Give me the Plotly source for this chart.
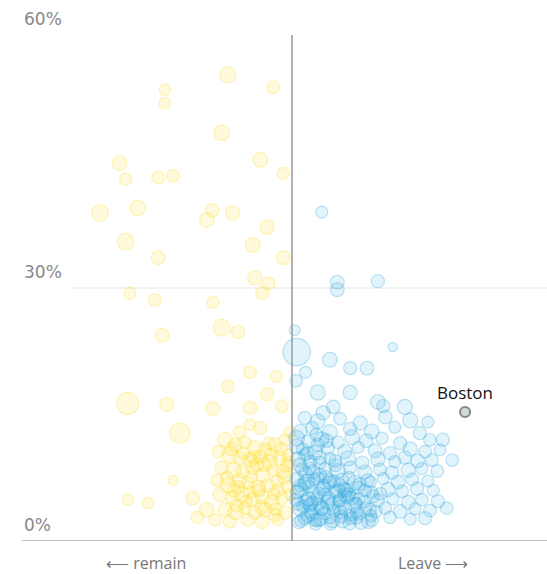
import plotly.graph_objects as go

# ---------------- data ----------------
# x: Leave vote share (%), y: share of residents (%), pop: electorate (thousands)
remain_x = [40.5, 31.2, 31.2, 47.2, 39.6, 24.5, 45.3, 48.7, 25.4, 30.2, 32.4, 21.6, 27.2, 37.4, 38.2,
            41.2, 25.4, 30.2, 46.3, 44.2, 48.7, 44.5, 46.5, 45.6, 26.0, 29.7, 38.3, 39.6, 42.0, 30.8,
            43.8, 40.5, 46.3, 25.7, 31.5, 38.3, 43.8, 33.4, 32.4, 38.9, 25.7, 28.7, 35.3, 37.4, 36.0,
            48.5, 47.7,
            40.1, 41.6, 43.0, 44.5, 46.0, 47.5, 49.0, 49.7, 40.8, 42.3, 43.8, 45.3, 46.7, 48.2, 49.4,
            39.6, 41.3, 42.7, 44.2, 45.7, 47.2, 48.7, 40.5, 42.0, 43.5, 45.0, 46.4, 47.9, 49.3,
            39.3, 41.1, 42.6, 44.1, 45.6, 47.0, 48.5, 49.7, 40.1, 41.6, 43.0, 44.5, 46.0, 47.5, 49.0,
            38.6, 40.8, 43.5, 45.6, 47.9, 42.3, 45.3, 39.1, 43.8,
            41.0, 42.9, 44.8, 46.6, 48.4, 40.4, 42.2, 44.0, 45.9, 47.8, 49.2, 41.8, 43.7, 45.5, 47.3,
            44.3, 46.9, 48.9, 43.2, 45.1, 47.6, 49.5, 41.5]
remain_y = [55.3, 53.5, 51.9, 53.8, 48.4, 44.8, 45.2, 43.6, 42.9, 43.1, 43.3, 38.9, 39.5, 38.1, 39.2,
            38.9, 35.5, 33.6, 37.2, 35.1, 33.6, 31.2, 30.5, 29.4, 29.4, 28.6, 28.3, 25.3, 24.8, 24.4,
            20.0, 18.3, 17.4, 16.3, 16.2, 15.7, 15.8, 12.8, 7.2, 7.2, 4.9, 4.5, 5.1, 3.7, 2.8,
            16.0, 19.5,
            12.0, 11.4, 11.7, 11.0, 10.8, 11.4, 12.0, 12.9, 10.2, 9.8, 9.6, 10.0, 9.4, 9.8, 10.2,
            8.7, 8.4, 8.2, 8.7, 7.8, 8.4, 8.2, 6.6, 6.4, 6.9, 6.3, 6.6, 6.0, 6.5,
            5.5, 5.1, 5.5, 4.9, 5.2, 4.6, 5.1, 5.5, 3.7, 3.4, 3.9, 3.4, 3.7, 3.1, 3.4,
            2.5, 2.3, 2.5, 2.3, 2.5, 12.9, 13.4, 10.6, 13.8,
            10.9, 10.4, 9.1, 11.6, 10.9, 7.5, 7.2, 7.6, 9.0, 7.1, 8.9, 4.2, 5.8, 4.0, 5.6,
            9.9, 10.2, 7.6, 4.7, 6.0, 3.8, 9.3, 6.0]
remain_pop = [180, 90, 90, 110, 160, 150, 150, 100, 100, 110, 110, 190, 170, 150, 120,
              140, 200, 130, 140, 150, 130, 140, 120, 120, 100, 110, 100, 200, 120, 130,
              110, 110, 120, 330, 140, 130, 120, 280, 70, 110, 90, 90, 130, 150, 110,
              110, 100,
              150, 130, 110, 160, 120, 140, 100, 90, 170, 120, 140, 110, 150, 130, 100,
              120, 160, 110, 130, 150, 100, 140, 170, 120, 110, 150, 130, 120, 100,
              140, 110, 160, 120, 130, 150, 110, 90, 130, 150, 100, 120, 140, 110, 130,
              100, 120, 110, 130, 100, 110, 120, 100, 90,
              120, 110, 130, 100, 120, 110, 130, 100, 120, 110, 100, 120, 110, 130, 100,
              120, 110, 130, 110, 120, 100, 110, 130]

leave_x = [54.4, 56.7, 56.7, 62.7, 50.4, 50.7, 64.9, 55.6, 58.6, 61.1, 50.6, 53.8, 58.6, 62.7, 66.7,
           54.6, 56.1, 72.3, 73.7, 72.9, 52.0, 63.5,
           51.9, 53.8, 57.1, 60.1, 63.8, 67.5, 70.1,
           51.2, 53.0, 55.6, 58.6, 61.8, 65.2, 68.9,
           50.7, 52.4, 54.4, 56.8, 58.9, 61.0, 63.3, 66.0, 70.4,
           51.6, 53.4, 55.3, 57.8, 59.8, 62.3, 64.5, 67.5, 69.7, 71.9,
           50.9, 52.7, 54.1, 56.4, 58.3, 60.4, 62.7, 65.2, 66.7, 68.6, 70.7,
           51.5, 53.1, 54.9, 56.8, 58.6, 60.8, 63.0, 64.8, 67.2, 69.2, 71.5,
           50.7, 52.2, 53.8, 55.6, 57.4, 59.3, 61.2, 63.5, 65.7, 67.8, 70.1,
           51.3, 53.0, 54.6, 56.4, 58.0, 59.8, 61.8, 64.2, 66.3, 68.5, 70.9,
           50.6, 52.1, 53.7, 55.3, 57.1, 58.9, 60.7, 62.7, 64.9, 67.2, 69.2, 71.6,
           51.2, 52.8, 54.4, 56.2, 57.8, 59.6, 61.5, 63.8, 66.0, 68.2, 70.4,
           51.9, 53.8, 55.6, 57.5, 59.5, 61.8, 64.5, 67.5, 69.7,
           52.7, 54.9, 57.1, 59.3, 60.8, 54.1, 56.4, 58.6, 51.2, 53.4, 57.8, 51.9, 53.8,
           51.0, 52.3, 53.5, 54.8, 56.0, 57.3, 58.5, 59.9, 61.3, 62.4, 51.7, 53.0, 54.3, 55.9, 57.0,
           58.2, 59.5, 60.9, 62.0, 50.8, 52.5, 54.0, 55.5, 56.9, 58.4, 60.0, 61.6, 63.1, 52.0, 55.0,
           51.4, 52.9, 54.2, 55.7, 57.2, 58.7, 60.2, 61.7, 50.9, 52.4, 53.9, 55.4, 56.9, 58.4, 59.9,
           51.8, 53.3, 54.7, 56.2, 57.7, 51.1, 52.6, 54.1, 55.6, 50.7, 52.2, 53.6, 55.1]
leave_y = [39.0, 30.7, 29.8, 30.8, 25.0, 22.4, 23.0, 21.5, 20.5, 20.5, 19.0, 17.6, 17.6, 16.5, 15.9,
           15.2, 15.9, 12.0, 9.6, 3.9, 20.0, 16.0,
           14.6, 14.2, 14.5, 14.0, 14.7, 14.3, 14.1,
           13.0, 13.4, 12.9, 13.3, 13.0, 13.5, 12.8,
           12.2, 11.8, 12.1, 11.7, 12.3, 11.9, 12.2, 11.6, 12.0,
           10.9, 10.5, 11.0, 10.6, 11.1, 10.7, 10.4, 10.9, 10.6, 10.8,
           9.7, 9.4, 9.9, 9.5, 9.8, 9.3, 9.7, 9.4, 9.9, 9.5, 9.6,
           8.5, 8.2, 8.6, 8.3, 8.7, 8.2, 8.5, 8.1, 8.4, 8.6, 8.3,
           7.3, 7.0, 7.4, 7.1, 7.3, 6.9, 7.2, 7.4, 7.0, 7.3, 7.1,
           6.1, 5.8, 6.2, 5.9, 6.0, 6.3, 5.8, 6.1, 5.9, 6.2, 6.0,
           4.9, 4.7, 5.0, 4.6, 4.9, 5.1, 4.7, 4.8, 5.0, 4.6, 4.9, 4.7,
           3.8, 3.5, 3.9, 3.6, 3.8, 3.4, 3.7, 3.9, 3.5, 3.8, 3.6,
           2.7, 2.5, 2.8, 2.4, 2.7, 2.5, 2.8, 2.6, 2.7,
           4.3, 5.5, 6.6, 4.3, 6.0, 7.8, 9.0, 3.1, 6.6, 2.5, 5.5, 10.2, 11.4,
           2.2, 3.0, 2.0, 3.3, 2.4, 2.9, 2.1, 3.2, 2.3, 3.5, 4.1, 4.6, 3.9, 4.4, 4.0,
           5.2, 4.5, 3.9, 5.3, 5.8, 6.4, 5.7, 6.9, 5.9, 7.5, 6.7, 7.0, 5.6, 8.0, 7.6,
           2.4, 3.1, 2.6, 2.0, 3.4, 2.7, 2.2, 3.0, 4.4, 5.0, 4.3, 5.1, 4.7, 5.5, 5.0,
           6.8, 7.3, 6.5, 7.1, 6.2, 9.0, 8.6, 9.3, 9.8, 11.2, 10.4, 12.6, 11.9]
leave_pop = [100, 130, 130, 120, 80, 520, 60, 150, 120, 130, 110, 160, 140, 150, 160,
             140, 130, 120, 110, 110, 100, 120,
             120, 150, 110, 140, 130, 160, 100,
             130, 110, 160, 120, 150, 100, 120,
             170, 120, 140, 110, 150, 130, 100, 120, 110,
             110, 150, 120, 140, 100, 130, 120, 140, 110, 100,
             150, 120, 130, 110, 160, 120, 140, 100, 120, 130, 110,
             120, 140, 100, 150, 120, 130, 110, 120, 140, 100, 110,
             130, 160, 120, 140, 110, 150, 120, 100, 130, 110, 100,
             150, 120, 140, 110, 130, 120, 100, 140, 110, 120, 100,
             120, 140, 110, 150, 120, 130, 110, 120, 100, 130, 110, 120,
             140, 120, 150, 110, 130, 100, 120, 110, 130, 100, 110,
             120, 130, 110, 140, 100, 120, 110, 100, 120,
             130, 110, 120, 140, 110, 130, 120, 100, 110, 120, 130, 110, 120,
             110, 130, 100, 120, 140, 110, 120, 100, 130, 110, 120, 100, 140, 110, 130,
             120, 100, 110, 120, 130, 110, 100, 120, 140, 110, 120, 100, 110, 130, 120,
             120, 110, 130, 100, 120, 110, 130, 100, 120, 140, 110, 120, 100, 130, 110,
             120, 100, 130, 110, 120, 140, 110, 120, 100, 150, 120, 110, 130]

boston_x = [75.6]
boston_y = [15.3]
boston_pop = [70]

y_ticks = [0, 30, 60]
y_tick_labels = ["0%", "30%", "60%"]

SIZEREF = 1.38

fig = go.Figure()
fig.add_trace(go.Scatter(
    x=remain_x, y=remain_y, mode="markers", hoverinfo="skip",
    marker=dict(size=remain_pop, sizemode="area", sizeref=SIZEREF,
                color="rgba(255,226,30,0.22)",
                line=dict(color="rgba(252,220,40,0.45)", width=1.2))))
fig.add_trace(go.Scatter(
    x=leave_x, y=leave_y, mode="markers", hoverinfo="skip",
    marker=dict(size=leave_pop, sizemode="area", sizeref=SIZEREF,
                color="rgba(45,172,228,0.2)",
                line=dict(color="rgba(40,165,220,0.42)", width=1.2))))
fig.add_trace(go.Scatter(
    x=boston_x, y=boston_y, mode="markers", hoverinfo="skip",
    marker=dict(size=boston_pop, sizemode="area", sizeref=SIZEREF,
                color="rgba(140,170,165,0.6)",
                line=dict(color="#555", width=2))))

fig.add_annotation(x=boston_x[0], y=boston_y[0], text="Boston", showarrow=False,
                   yanchor="bottom", yshift=6, xanchor="center",
                   font=dict(family="Open Sans", size=17, color="#111"))

# reference lines
fig.add_shape(type="line", xref="paper", yref="y", x0=0, x1=1, y0=0, y1=0,
              line=dict(color="#aaa", width=1.5), layer="below")
fig.add_shape(type="line", xref="paper", yref="y", x0=0.097, x1=1, y0=30, y1=30,
              line=dict(color="#e6e6e6", width=1), layer="below")
fig.add_shape(type="line", xref="x", yref="y", x0=50, x1=50, y0=0, y1=60,
              line=dict(color="#999", width=1.5), layer="above")

for v, lab in zip(y_ticks, y_tick_labels):
    fig.add_annotation(x=0, xref="paper", y=v, yref="y", text=lab, showarrow=False,
                       xanchor="left", yanchor="bottom", yshift=4,
                       font=dict(family="DejaVu Sans", size=17, color="#888"))

fig.add_annotation(x=28.4, xref="x", y=-0.043, yref="paper", text="⟵ remain",
                   showarrow=False, xanchor="center", yanchor="middle",
                   font=dict(family="Open Sans", size=16, color="#777"))
fig.add_annotation(x=70.9, xref="x", y=-0.043, yref="paper", text="Leave ⟶",
                   showarrow=False, xanchor="center", yanchor="middle",
                   font=dict(family="Open Sans", size=16, color="#777"))

fig.update_layout(
    width=547, height=574,
    margin=dict(l=22, r=0, t=35, b=33),
    paper_bgcolor="white", plot_bgcolor="white",
    showlegend=False,
    xaxis=dict(range=[10.06, 87.72], visible=False),
    yaxis=dict(range=[0, 60], visible=False),
)

fig.write_html("out.html", config={"displayModeBar": False},
               post_script="document.body.style.margin='0px';document.body.style.overflow='hidden';")
